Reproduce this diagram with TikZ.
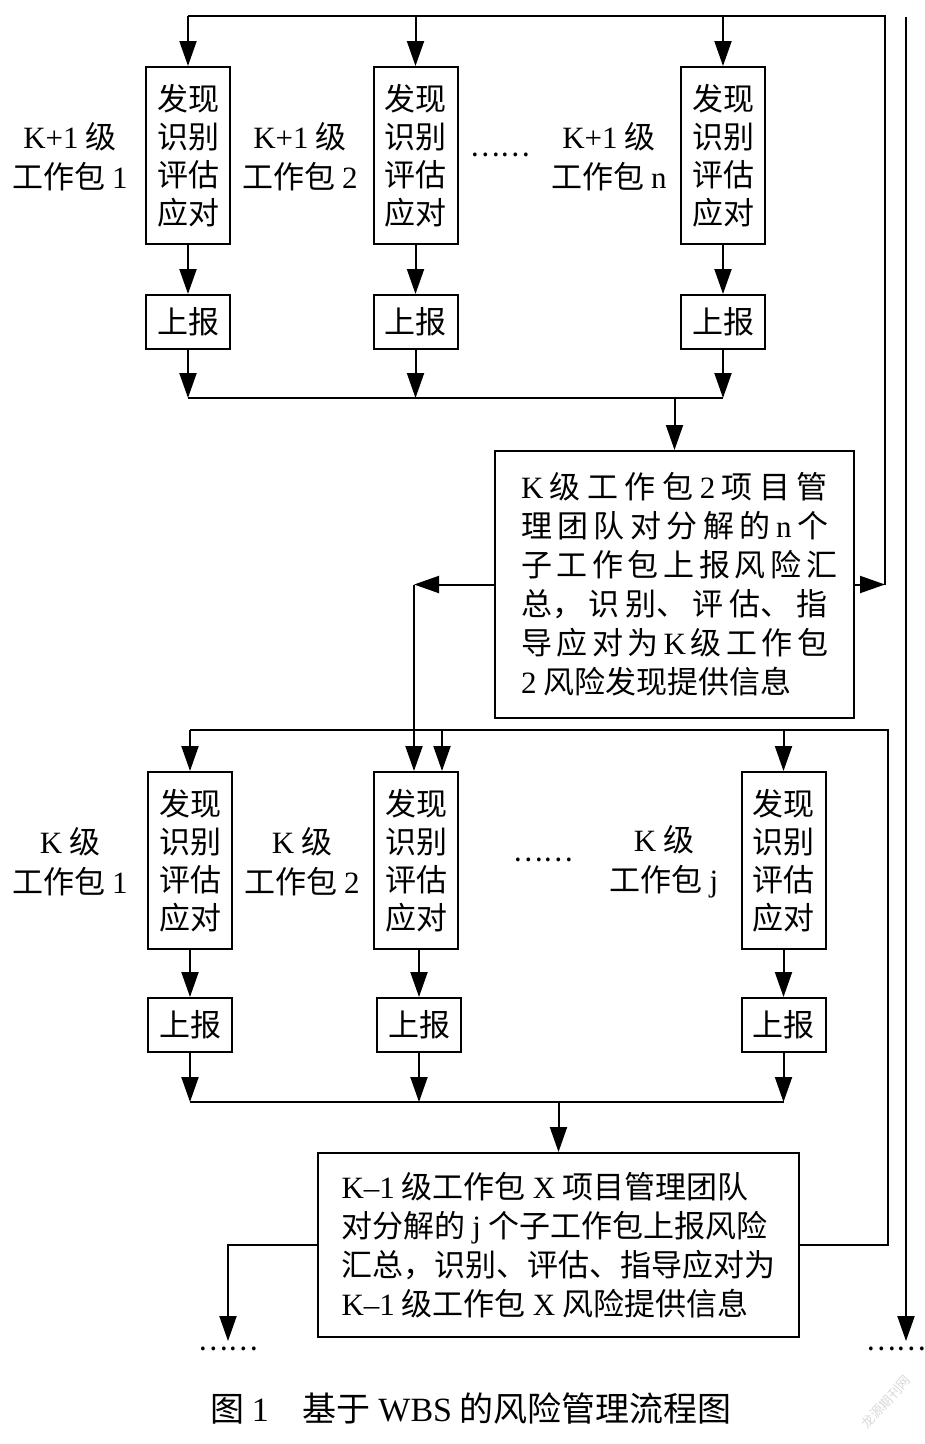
\documentclass[tikz,border=0pt]{standalone}
\usepackage{fontspec}
\setmainfont{Noto Sans CJK SC}
\newfontfamily\tnr{Liberation Serif}
\newcommand{\en}[1]{{\tnr #1}}
\usetikzlibrary{arrows.meta}

\begin{document}
\begin{tikzpicture}
        [x=1pt,y=-1pt,line width=2pt,
         every node/.style={inner sep=0pt, font=\fontsize{31}{39}\selectfont},
         tallbox/.style={draw, minimum width=84pt, minimum height=177pt, align=center, font=\fontsize{31}{38}\selectfont},
         repbox/.style={draw, minimum width=84pt, minimum height=54pt},
         infobox/.style={draw, align=left},
         lbl/.style={align=center, font=\fontsize{31}{40}\selectfont},
         dots/.style={font=\fontsize{28}{28}\selectfont},
         arr/.style={-{Triangle[length=25pt,width=17pt]}}]
      \useasboundingbox (0,0) rectangle (925,1444);

      % level K+1
      \node[tallbox] (a1) at (188,155.5) {发现\\识别\\评估\\应对};
      \node[tallbox] (a2) at (415.5,155.5) {发现\\识别\\评估\\应对};
      \node[tallbox] (a3) at (723,155.5) {发现\\识别\\评估\\应对};
      \node[repbox] (r1) at (188,322) {上报};
      \node[repbox] (r2) at (415.5,322) {上报};
      \node[repbox] (r3) at (723,322) {上报};
      \node[lbl] (la1) at (70,157) {\en{K+1} 级\\工作包 \en{1}};
      \node[lbl] (la2) at (300,157) {\en{K+1} 级\\工作包 \en{2}};
      \node[lbl] (la3) at (609,157) {\en{K+1} 级\\工作包 \en{n}};
      \node[dots] (da) at (500,155) {……};

      \node[infobox, minimum width=359pt, minimum height=267pt] (kbox) at (674.5,584.5)
        {\makebox[307pt][s]{\en{K} 级 工 作 包 \en{2} 项 目 管}\\
         \makebox[307pt][s]{理 团 队 对 分 解 的 \en{n} 个}\\
         \makebox[307pt][s]{子 工 作 包 上 报 风 险 汇}\\
         \makebox[307pt][s]{总， 识 别、 评 估、 指}\\
         \makebox[307pt][s]{导 应 对 为 \en{K} 级 工 作 包}\\
         \en{2} 风险发现提供信息};

      \coordinate (tr) at (885,16);
      \coordinate (ca) at (674.5,398);
      \coordinate (lc) at (414,584.5);

      \draw (kbox.east -| tr) -- (tr) -- (tr -| a1);
      \foreach \n in {a1,a2,a3}
        \draw[arr] (tr -| \n) -- (\n);
      \foreach \from/\to in {a1/r1, a2/r2, a3/r3}
        \draw[arr] (\from) -- (\to);
      \foreach \n in {r1,r2,r3}
        \draw[arr] (\n) -- (\n |- ca);
      \draw (r1 |- ca) -- (r3 |- ca);
      \draw[arr] (ca) -- (kbox);
      \draw[arr] (kbox) -- (kbox.east -| tr);
      \draw[arr] (kbox) -- (lc);

      % level K
      \node[tallbox] (b1) at (190,860.5) {发现\\识别\\评估\\应对};
      \node[tallbox] (b2) at (416,860.5) {发现\\识别\\评估\\应对};
      \node[tallbox] (b3) at (783.5,860.5) {发现\\识别\\评估\\应对};
      \node[repbox] (c1) at (190,1025) {上报};
      \node[repbox] (c2) at (419,1025) {上报};
      \node[repbox] (c3) at (783.5,1025) {上报};
      \node[lbl] (lb1) at (70,862) {\en{K} 级\\工作包 \en{1}};
      \node[lbl] (lb2) at (302,862) {\en{K} 级\\工作包 \en{2}};
      \node[lbl] (lb3) at (664,862) {\en{K} 级\\工作包 \en{j}};
      \node[dots] (db) at (543,860) {……};

      \node[infobox, minimum width=481pt, minimum height=184pt] (xbox) at (558.5,1245)
        {\en{K–1} 级工作包 \en{X} 项目管理团队\\
         对分解的 \en{j} 个子工作包上报风险\\
         汇总，识别、评估、指导应对为\\
         \en{K–1} 级工作包 \en{X} 风险提供信息};

      \coordinate (br) at (888,730);
      \coordinate (bk) at (442,730);
      \coordinate (cb) at (558.5,1102);

      \draw[arr] (lc) -- (lc |- b2.north);
      \draw (xbox.east) -- (xbox.east -| br) -- (br) -- (br -| b1);
      \foreach \n in {b1,b3}
        \draw[arr] (br -| \n) -- (\n);
      \draw[arr] (bk) -- (bk |- b2.north);
      \draw[arr] (b1) -- (c1);
      \draw[arr] (b2.south -| c2) -- (c2);
      \draw[arr] (b3) -- (c3);
      \foreach \n in {c1,c2,c3}
        \draw[arr] (\n) -- (\n |- cb);
      \draw (c1 |- cb) -- (c3 |- cb);
      \draw[arr] (cb) -- (xbox);

      % onward
      \node[dots] (dl) at (228,1349) {……};
      \node[dots] (dr) at (896,1349) {……};
      \coordinate (ot) at (906,17);
      \draw[arr, shorten >=5pt] (xbox.west) -| (dl.north);
      \draw[arr, shorten >=5pt] (ot) -- (ot |- dr.north);

      \node[font=\fontsize{34}{34}\selectfont] (cap) at (471,1408) {图 \en{1}\quad 基于 \en{WBS} 的风险管理流程图};
      \node[rotate=48, text=black!15, font=\fontsize{13}{13}\selectfont] (wm) at (886,1402) {龙源期刊网};
    \end{tikzpicture}
\end{document}
